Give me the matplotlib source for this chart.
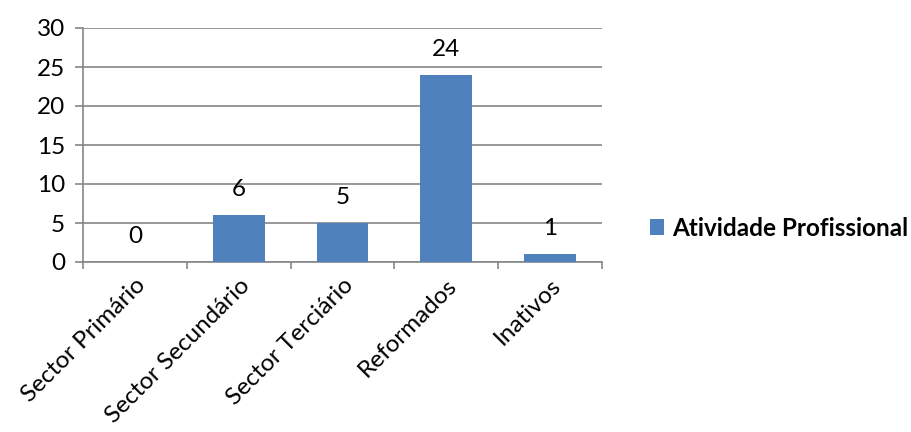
import matplotlib
matplotlib.use("Agg")
from matplotlib import pyplot as plt
import numpy as np

# activity categories and counts
categories = ["Sector Primário", "Sector Secundário", "Sector Terciário", "Reformados", "Inativos"]
counts = [0, 6, 5, 24, 1]
series_name = "Atividade Profissional"

bar_color = "#4F81BD"
axis_gray = "#868686"

plt.rcParams["font.family"] = ["Lato", "DejaVu Sans"]
fs = 17.5

fig = plt.figure(figsize=(9.11, 4.32), dpi=100)
ax = fig.add_axes([83 / 911, 1 - 262 / 432, (602 - 83) / 911, (262 - 28) / 432])

x = np.arange(len(categories))
bars = ax.bar(x, counts, width=0.5, color=bar_color, label=series_name, zorder=3)

# value labels above each bar
for xi, v in zip(x, counts):
    ax.annotate(str(v), (xi, v), xytext=(0, 11), textcoords="offset points",
                ha="center", va="bottom", fontsize=fs)

ax.set_xlim(-0.5, len(categories) - 0.5)
ax.set_ylim(0, 30)
ax.set_yticks(range(0, 31, 5))
ax.yaxis.grid(True, color=axis_gray, linewidth=1.2, zorder=0)
ax.set_axisbelow(True)

for s in ["top", "right"]:
    ax.spines[s].set_visible(False)
for s in ["left", "bottom"]:
    ax.spines[s].set_color(axis_gray)
    ax.spines[s].set_linewidth(1.2)

# category separators as minor ticks
ax.set_xticks(x)
ax.set_xticks(np.arange(-0.5, len(categories)), minor=True)
ax.tick_params(axis="x", which="major", length=0, pad=9)
ax.tick_params(axis="x", which="minor", length=5, width=1.2, color=axis_gray, direction="out")
ax.tick_params(axis="y", length=6, width=1.2, color=axis_gray, pad=7, labelsize=fs)
ax.set_xticklabels(categories, rotation=45, ha="right", rotation_mode="anchor", fontsize=fs)

fig.legend(handles=[bars], labels=[series_name], loc="center left",
           bbox_to_anchor=(628 / 911, 1 - 228 / 432), frameon=False,
           handlelength=0.6, handleheight=0.6, handletextpad=0.3,
           prop={"weight": "bold", "size": fs})

fig.savefig("out.png", dpi=100)
